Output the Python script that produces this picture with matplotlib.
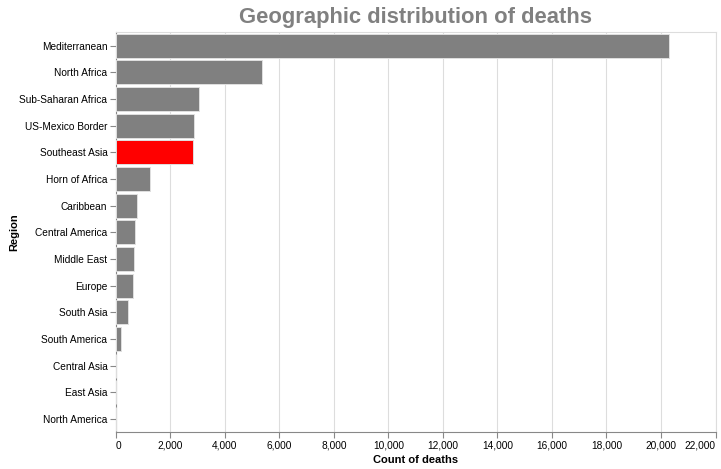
import matplotlib.pyplot as plt

regions = ['Mediterranean', 'North Africa', 'Sub-Saharan Africa', 'US-Mexico Border',
           'Southeast Asia', 'Horn of Africa', 'Caribbean', 'Central America',
           'Middle East', 'Europe', 'South Asia', 'South America', 'Central Asia',
           'East Asia', 'North America']
deaths = [20310, 5350, 3035, 2865, 2820, 1265, 765, 715, 668, 640, 437, 180, 20, 5, 2]
highlight = 'Southeast Asia'
xticks = list(range(0, 22001, 2000))

plt.rcParams['font.family'] = ['Liberation Sans', 'DejaVu Sans']

fig = plt.figure(figsize=(7.21, 4.69), dpi=100)
ax = fig.add_axes([115.8 / 721, 1 - 432.3 / 469, (715.5 - 115.8) / 721, (432.3 - 32.5) / 469])

colors = ['#ff0000' if r == highlight else '#808080' for r in regions]
ypos = list(range(len(regions)))
ax.barh(ypos, deaths, height=0.9, color=colors, edgecolor='#e0e0e0', linewidth=0.7, zorder=3)

ax.set_xlim(0, 22000)
ax.set_ylim(len(regions) - 0.5, -0.5)
ax.set_yticks(ypos)
ax.set_yticklabels(regions)
ax.set_xticks(xticks)
ax.set_xticklabels([f'{v:,}' for v in xticks])

ax.grid(axis='x', color='#dddddd', linewidth=0.8, zorder=0)
ax.tick_params(axis='both', labelsize=7.3, color='#888888', length=4, width=0.8, pad=2)
for side in ['top', 'right']:
    ax.spines[side].set_color('#dddddd')
    ax.spines[side].set_linewidth(0.8)
for side in ['bottom', 'left']:
    ax.spines[side].set_color('#888888')
    ax.spines[side].set_linewidth(0.8)

# flush first and last x labels to the plot edges
xlabels = ax.get_xticklabels()
xlabels[0].set_horizontalalignment('left')
xlabels[-1].set_horizontalalignment('right')

ax.set_xlabel('Count of deaths', fontsize=8, fontweight='bold', labelpad=3)
fig.text(14 / 721, 1 - 232 / 469, 'Region', fontsize=8, fontweight='bold',
         rotation=90, ha='center', va='center')
ax.set_title('Geographic distribution of deaths', fontsize=15.8, fontweight='bold',
             color='#808080', pad=7)

fig.savefig('out.png', dpi=100)
